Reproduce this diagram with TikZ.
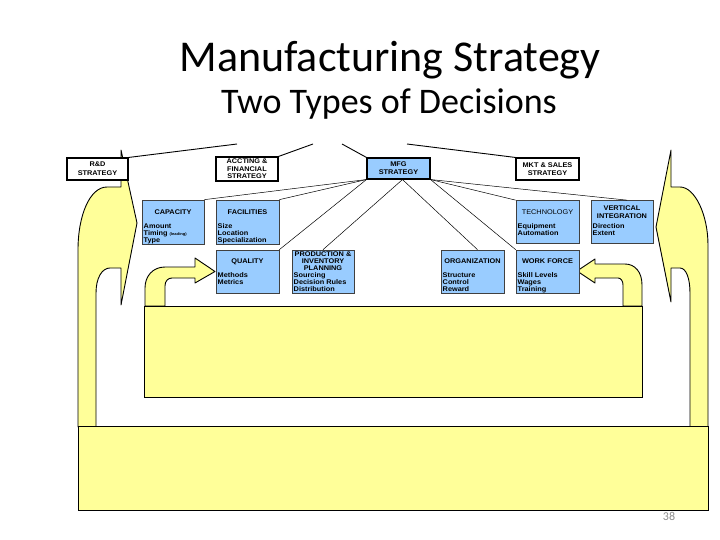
\documentclass[tikz,border=0pt]{standalone}
\usepackage{fontspec}
\setmainfont{Carlito}
\newfontfamily\bxf[FakeStretch=1.08]{Liberation Sans}
\usetikzlibrary{calc}
\definecolor{byel}{RGB}{255,255,153}
\definecolor{bblue}{RGB}{153,204,255}
\definecolor{pgnum}{RGB}{140,140,140}
\begin{document}
\begin{tikzpicture}[x=1pt,y=-1pt,
  ylw/.style={fill=byel,draw=black,line width=0.9pt,line join=round},
  ylwbox/.style={fill=byel,draw=black,line width=0.9pt,inner sep=0pt},
  wbox/.style={draw=black,line width=1.1pt,fill=white,inner sep=0pt},
  blbox/.style={draw=black!75,line width=0.7pt,fill=bblue,inner sep=0pt},
  hd/.style={font=\bxf\bfseries\fontsize{6.8}{7.5}\selectfont,align=center,inner sep=0pt},
  hdl/.style={font=\bxf\fontsize{6.8}{7.5}\selectfont,align=center,inner sep=0pt},
  itm/.style={font=\bxf\bfseries\fontsize{6.8}{7}\selectfont,align=left,anchor=north west,inner sep=0pt},
  conn/.style={draw=black,line width=0.5pt},
  topconn/.style={draw=black,line width=0.9pt}]
\useasboundingbox (0,0) rectangle (720,540);

% titles
\node[font=\fontsize{44}{44}\selectfont,anchor=base,inner sep=0pt] (title) at (390,72) {Manufacturing Strategy};
\node[font=\fontsize{36}{36}\selectfont,anchor=base,inner sep=0pt] (sub) at (389,114) {Two Types of Decisions};

% big left arrow
\draw[ylw] (78,427) -- (78,250) .. controls (78,215) and (90,187) .. (107,187)
  -- (121,187) -- (121,150) -- (137,223) -- (121,305) -- (121,268) -- (110,268)
  .. controls (102,268) and (96,278) .. (96,293) -- (96,427) -- cycle;
% big right arrow
\draw[ylw] (708,427) -- (708,245) .. controls (708,215) and (695,187) .. (680,187)
  -- (671,187) -- (671,150) -- (656,227) -- (671,302) -- (671,268) -- (680,268)
  .. controls (686,268) and (690,278) .. (690,293) -- (690,427) -- cycle;
% small left arrow
\draw[ylw] (145,306) -- (145,288) .. controls (145,276) and (153,267) .. (165,267)
  -- (195,267) -- (195,258) -- (215,271.5) -- (195,283) -- (195,278) -- (172,278)
  .. controls (168,278) and (165,281) .. (165,286) -- (165,306) -- cycle;
% small right arrow
\draw[ylw] (642,306) -- (642,285) .. controls (642,272) and (635,264) .. (625,264)
  -- (595,264) -- (595,259) -- (577,271) -- (595,283) -- (595,278) -- (618,278)
  .. controls (621,278) and (623,281) .. (623,285) -- (623,306) -- cycle;

% yellow boxes
\node[ylwbox,minimum width=498pt,minimum height=91pt] (mid) at (393,351.5) {};
\node[ylwbox,minimum width=630pt,minimum height=84pt] (bar) at (393,468) {};

% strategy boxes
\node[wbox,minimum width=61pt,minimum height=22pt] (rd) at (97.5,169) {};
\node[wbox,minimum width=62pt,minimum height=24pt] (acc) at (247,169) {};
\node[blbox,line width=1.1pt,draw=black,minimum width=63pt,minimum height=21pt] (mfg) at (398.5,168.5) {};
\node[wbox,minimum width=63pt,minimum height=22pt] (mkt) at (547.5,169) {};

% decision boxes
\node[blbox,minimum width=62pt,minimum height=44pt] (cap) at (173,222) {};
\node[blbox,minimum width=63pt,minimum height=44pt] (fac) at (247.5,222) {};
\node[blbox,minimum width=63pt,minimum height=43pt] (tech) at (547.5,222) {};
\node[blbox,minimum width=62pt,minimum height=43pt] (vert) at (622,222) {};
\node[blbox,minimum width=63pt,minimum height=43pt] (qual) at (247.5,271.5) {};
\node[blbox,minimum width=62pt,minimum height=43pt] (prod) at (323,271.5) {};
\node[blbox,minimum width=63pt,minimum height=43pt] (org) at (472.5,271.5) {};
\node[blbox,minimum width=63pt,minimum height=43pt] (wf) at (547.5,271.5) {};

% connectors to the hidden top
\coordinate (t1) at (237,144);
\coordinate (t2) at (313,144);
\coordinate (t3) at (342,144);
\coordinate (t4) at (407,144);
\draw[topconn] (rd.north east) -- (t1);
\draw[topconn] (acc.north east) -- (t2);
\draw[topconn] (mfg.north west) -- (t3);
\draw[topconn] (mkt.north west) -- (t4);

% connectors from MFG strategy
\coordinate (ms) at ($(mfg.south)+(4,0)$);
\draw[conn] (mfg.south west) -- (cap.north east);
\draw[conn] (mfg.south west) -- (fac.north east);
\draw[conn] (mfg.south west) -- (qual.north east);
\draw[conn] (ms) -- (prod.north);
\draw[conn] (ms) -- ($(org.north)+(5,0)$);
\draw[conn] (mfg.south east) -- (wf.north west);
\draw[conn] (mfg.south east) -- (tech.north west);
\draw[conn] (mfg.south east) -- ($(vert.north)+(5,0)$);

% texts in strategy boxes
\node[hd,font=\bxf\bfseries\fontsize{6.8}{9}\selectfont] at (rd.center) {R\&D\\STRATEGY};
\node[hd] at (acc.center) {ACCTING \&\\FINANCIAL\\STRATEGY};
\node[hd,font=\bxf\bfseries\fontsize{6.8}{8.3}\selectfont] at (mfg.center) {MFG\\STRATEGY};
\node[hd] at (mkt.center) {MKT \& SALES\\STRATEGY};

% texts in decision boxes
\node[hd] at (173,212) {CAPACITY};
\node[itm] at (143.5,223.3) {Amount\\Timing {\fontsize{3.8}{4}\selectfont(leading)}\\Type};
\node[hd] at (247.5,212) {FACILITIES};
\node[itm] at (217.5,223.3) {Size\\Location\\Specialization};
\node[hdl] at (547.5,212) {TECHNOLOGY};
\node[itm] at (517.5,223.3) {Equipment\\Automation};
\node[hd] at (622,212) {VERTICAL\\INTEGRATION};
\node[itm] at (592.5,223.3) {Direction\\Extent};
\node[hd] at (247.5,261.5) {QUALITY};
\node[itm] at (217.5,272.3) {Methods\\Metrics};
\node[hd,font=\bxf\bfseries\fontsize{6.8}{7}\selectfont] at (323,261) {PRODUCTION \&\\INVENTORY\\PLANNING};
\node[itm] at (293.5,272.3) {Sourcing\\Decision Rules\\Distribution};
\node[hd] at (472.5,261) {ORGANIZATION};
\node[itm] at (442.5,272.3) {Structure\\Control\\Reward};
\node[hd] at (547.5,261) {WORK FORCE};
\node[itm] at (517.5,272.3) {Skill Levels\\Wages\\Training};

% page number
\node[font=\fontsize{12}{12}\selectfont,text=pgnum,inner sep=0pt] (pg) at (669,516) {38};
\end{tikzpicture}
\end{document}
